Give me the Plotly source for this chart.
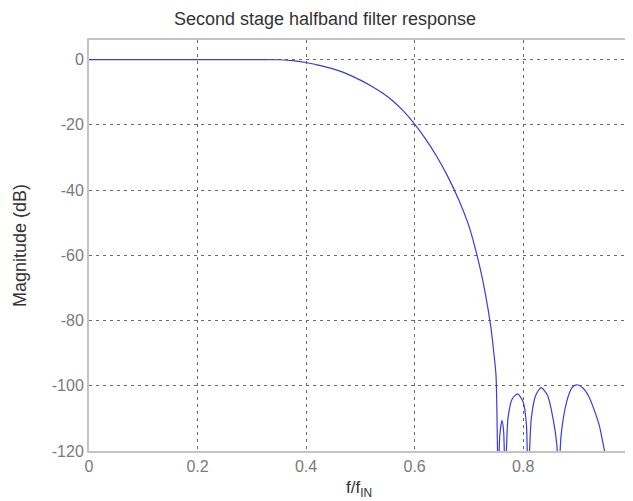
import plotly.graph_objects as go

freq = [0.0, 0.30, 0.35, 0.38, 0.40, 0.42, 0.445, 0.47, 0.50, 0.52, 0.54, 0.56, 0.58,
        0.60, 0.62, 0.64, 0.66, 0.68, 0.70, 0.71, 0.72, 0.73, 0.74, 0.745, 0.750, 0.754,
        0.757, 0.761, 0.764, 0.767, 0.772, 0.78, 0.79, 0.80, 0.806, 0.809, 0.815,
        0.823, 0.833, 0.845, 0.855, 0.862, 0.865, 0.870, 0.88, 0.89, 0.898, 0.91,
        0.92, 0.93, 0.94, 0.95, 0.955]
mag_db = [0.0, 0.0, -0.05, -0.4, -0.9, -1.6, -2.6, -4.0, -6.3, -8.1, -10.2, -12.7, -15.9,
          -19.8, -24.3, -29.5, -35.5, -42.5, -51.0, -56.8, -63.5, -71.5, -81.5, -88.5, -97.0, -130.0,
          -115.0, -110.6, -114.0, -130.0, -110.0, -104.0, -102.5, -105.0, -112.0, -130.0, -110.0,
          -103.0, -100.6, -103.0, -110.0, -118.0, -130.0, -115.0, -105.0, -100.6, -99.7, -100.7,
          -103.0, -107.0, -112.0, -120.0, -124.0]

x_ticks = [0, 0.2, 0.4, 0.6, 0.8]
x_tick_text = ["0", "0.2", "0.4", "0.6", "0.8"]
y_ticks = [0, -20, -40, -60, -80, -100, -120]
y_tick_text = ["0", "-20", "-40", "-60", "-80", "-100", "-120"]

FONT = "Liberation Sans, Arial, Helvetica"

# The page body has an 8px margin, so the figure is sized to fill the rest of the window.
W, H = 625, 493

fig = go.Figure()
fig.add_trace(go.Scatter(x=freq, y=mag_db, mode="lines",
                         line=dict(color="#3b3bdc", width=1.2, shape="spline", smoothing=0.7),
                         showlegend=False, hoverinfo="skip"))

axis_common = dict(showline=True, mirror=True, linecolor="#c4c4c4", linewidth=2,
                   showgrid=True, gridcolor="#6a6a6a", gridwidth=1, griddash="3px,4px",
                   zeroline=False, ticks="", automargin=False,
                   tickfont=dict(family=FONT, size=16, color="#7a7a7a"))

fig.update_layout(
    width=W, height=H,
    margin=dict(l=81, r=4, t=32, b=50),
    paper_bgcolor="white", plot_bgcolor="white",
    title=dict(text="Second stage halfband filter response", x=317 / W, xanchor="center",
               xref="container", y=1, yref="container", yanchor="top", pad=dict(t=4),
               font=dict(family=FONT, size=18, color="#333333")),
    xaxis=dict(range=[0, 0.995], tickvals=x_ticks, ticktext=x_tick_text,
               title=dict(text="f/f<sub>IN</sub>", standoff=7,
                          font=dict(family=FONT, size=17, color="#333333")),
               **axis_common),
    yaxis=dict(range=[-120, 6], tickvals=y_ticks, ticktext=y_tick_text,
               title=dict(text="Magnitude (dB)", standoff=20,
                          font=dict(family=FONT, size=18, color="#333333")),
               **axis_common),
)

fig.write_html("out.html")
